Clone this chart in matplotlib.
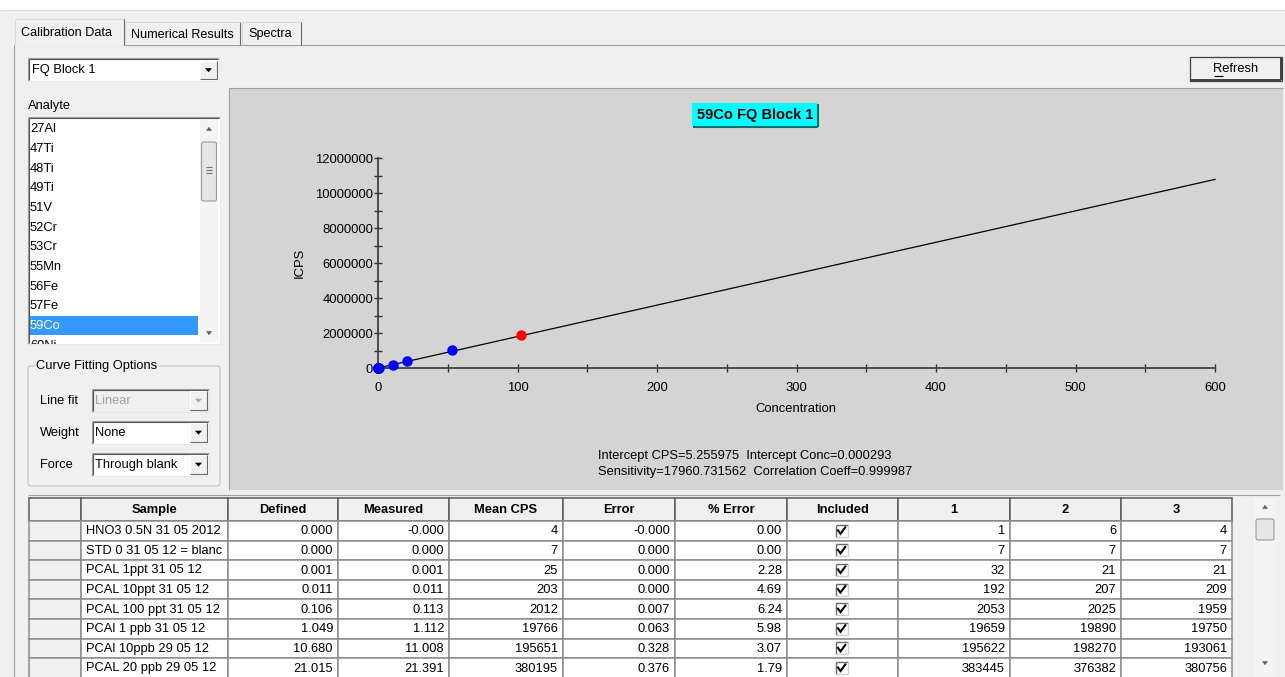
import numpy as np
import matplotlib
matplotlib.use("Agg")
import matplotlib.pyplot as plt
from matplotlib.patches import Rectangle, Polygon, FancyBboxPatch
from matplotlib.ticker import FuncFormatter, MultipleLocator

plt.rcParams["font.family"] = ["Liberation Sans", "DejaVu Sans"]

W, H = 1285, 677
UI = "#F0F0F0"
PANEL = "#D4D4D4"

# ---- data ----
analytes = ["27Al", "47Ti", "48Ti", "49Ti", "51V", "52Cr", "53Cr", "55Mn",
            "56Fe", "57Fe", "59Co", "60Ni"]
selected = "59Co"

samples = ["HNO3 0.5N 31 05 2012", "STD 0 31 05 12 = blanc", "PCAL 1ppt 31 05 12",
           "PCAL 10ppt 31 05 12", "PCAL 100 ppt 31 05 12", "PCAl 1 ppb 31 05 12",
           "PCAl 10ppb 29 05 12", "PCAL 20 ppb 29 05 12"]
defined = [0.000, 0.000, 0.001, 0.011, 0.106, 1.049, 10.680, 21.015]
measured = [-0.0002, 0.000, 0.001, 0.011, 0.113, 1.112, 11.008, 21.391]
mean_cps = [4, 7, 25, 203, 2012, 19766, 195651, 380195]
error = [-0.0002, 0.000, 0.000, 0.000, 0.007, 0.063, 0.328, 0.376]
pct_error = [0.00, 0.00, 2.28, 4.69, 6.24, 5.98, 3.07, 1.79]
rep1 = [1, 7, 32, 192, 2053, 19659, 195622, 383445]
rep2 = [6, 7, 21, 207, 2025, 19890, 198270, 376382]
rep3 = [4, 7, 21, 209, 1959, 19750, 193061, 380756]

# standards further down the table (rows scrolled out)
extra_conc = [52.8]
extra_cps = [1010000]
excluded_conc = [102.3]
excluded_cps = [1870000]

intercept = 5.255975
sensitivity = 17960.731562
corr_coeff = 0.999987
fit_range = [0, 600]

headers = ["", "Sample", "Defined", "Measured", "Mean CPS", "Error", "% Error",
           "Included", "1", "2", "3"]

fig = plt.figure(figsize=(W / 100, H / 100), dpi=100)
fig.patch.set_facecolor(UI)
bg = fig.add_axes([0, 0, 1, 1])
bg.set_xlim(0, W); bg.set_ylim(H, 0); bg.axis("off")


def box(x0, y0, x1, y1, fc, ec="none", lw=0.8, z=1):
    p = Rectangle((x0, y0), x1 - x0, y1 - y0, fc=fc, ec=ec, lw=lw, zorder=z)
    bg.add_patch(p)
    return p


def line(xs, ys, c, lw=0.8, z=2):
    bg.plot(xs, ys, color=c, lw=lw, zorder=z, solid_capstyle="butt")


def txt(x, y, s, **kw):
    kw.setdefault("fontsize", 9.3)
    kw.setdefault("va", "center")
    kw.setdefault("zorder", 4)
    return bg.text(x, y + 1.5, s, **kw)


def sunken(x0, y0, x1, y1, fc="white"):
    p = box(x0, y0, x1, y1, fc)
    line([x0, x1], [y0, y0], "#A0A0A0"); line([x0, x0], [y0, y1], "#A0A0A0")
    line([x0 + 1, x1 - 1], [y0 + 1, y0 + 1], "#555555"); line([x0 + 1, x0 + 1], [y0 + 1, y1 - 1], "#555555")
    line([x0, x1], [y1, y1], "#E8E8E8"); line([x1, x1], [y0, y1], "#E8E8E8")
    return p


def tri(cx, cy, up=False, color="black", s=3.5):
    d = -1 if up else 1
    bg.add_patch(Polygon([[cx - s, cy - d * 1.8], [cx + s, cy - d * 1.8], [cx, cy + d * 2.2]],
                         closed=True, fc=color, ec="none", zorder=5))


def arrow_btn(x0, y0, x1, y1, color="black"):
    box(x0, y0, x1, y1, UI, z=3)
    line([x0, x1], [y0, y0], "white", z=4); line([x0, x0], [y0, y1], "white", z=4)
    line([x0, x1], [y1, y1], "#696969", z=4); line([x1, x1], [y0, y1], "#696969", z=4)
    tri((x0 + x1) / 2, (y0 + y1) / 2, color=color)


# ---- window chrome ----
box(0, 0, W, 10, "white")
line([0, W], [10, 10], "#DADADA")
line([14, W], [45, 45], "#A0A0A0")
line([14, 14], [45, H], "#A0A0A0")
tabs = [("Calibration Data", 15, 124), ("Numerical Results", 125, 240), ("Spectra", 242, 301)]
for i, (name, x0, x1) in enumerate(tabs):
    top = 19 if i == 0 else 22
    box(x0, top, x1, 46 if i == 0 else 45, UI, z=2)
    line([x0, x1], [top, top], "#D8D8D8", z=3)
    line([x0, x0], [top, 45], "#D8D8D8", z=3)
    line([x1, x1], [top, 45], "#696969", z=3)
    txt(x0 + 6, 31 if i == 0 else 33, name, fontsize=9.1)

sunken(28, 58, 219, 81)
arrow_btn(200, 61, 217, 79)
txt(32, 69, "FQ Block 1")

box(1190, 57, 1282, 81, UI, ec="#404040", lw=0.9)
line([1191, 1281], [80, 80], "#404040", lw=1.4); line([1281, 1281], [58, 80], "#404040", lw=1.4)
txt(1236, 68, "Refresh", ha="center")
line([1214, 1223], [75.5, 75.5], "black")

# ---- analyte list ----
txt(28, 104, "Analyte")
lb = sunken(28, 117, 220, 344)
for i, a in enumerate(analytes):
    y = 128 + i * 19.65
    if a == selected:
        box(30, y - 8.5, 198, y + 10, "#3399FF", z=2)
    t = txt(30, y, a, color="white" if a == selected else "black")
    t.set_clip_path(lb)
    t.set_clip_on(True)
box(200, 119, 218, 342, "#F4F4F4", z=3)
tri(209, 129, up=True, color="#606060", s=3)
tri(209, 333, color="#606060", s=3)
bg.add_patch(FancyBboxPatch((201.5, 142), 15, 59, boxstyle="round,pad=0,rounding_size=2",
                            fc="#E6E6E6", ec="#9A9A9A", lw=0.8, zorder=4))
for gy in (167, 170, 173):
    line([206, 212], [gy, gy], "#707070", z=5)

# ---- curve fitting options ----
bg.add_patch(FancyBboxPatch((28, 366), 192, 120, boxstyle="round,pad=0,rounding_size=3",
                            fc="none", ec="#C8C8C8", lw=0.9, zorder=2))
txt(36, 364, "Curve Fitting Options", bbox=dict(fc=UI, ec="none", pad=1))
combos = [("Line fit", "Linear", 400, False), ("Weight", "None", 432, True),
          ("Force", "Through blank", 464, True)]
for label, value, y, enabled in combos:
    txt(40, y - 0.5, label)
    sunken(92, y - 11, 209, y + 12, fc="white" if enabled else UI)
    arrow_btn(190, y - 9, 207, y + 10, color="black" if enabled else "#A8A8A8")
    txt(95, y - 0.5, value, color="black" if enabled else "#A0A0A0")

# ---- chart panel ----
box(229, 88, 1283, 490, PANEL)
line([229, 1283], [88, 88], "#A0A0A0")
line([229, 229], [88, 490], "#A0A0A0")
box(692, 103, 817, 126, "#00FFFF", z=3)
line([693, 818], [126.5, 126.5], "#007070", lw=1.5, z=4)
line([818, 818], [104, 127], "#007070", lw=1.5, z=4)
txt(755, 113.5, "59Co FQ Block 1", ha="center", fontweight="bold", fontsize=10.5)
txt(598, 455, f"Intercept CPS={intercept:.6f}  Intercept Conc={intercept / sensitivity:.6f}")
txt(598, 471, f"Sensitivity={sensitivity:.6f}  Correlation Coeff={corr_coeff:.6f}")
bg.text(300, 263, "ICPS", rotation=90, ha="center", va="center", fontsize=9.4)
txt(796, 407, "Concentration", ha="center", fontsize=9.4)

ax = fig.add_axes([378 / W, 1 - 368 / H, 837 / W, 210 / H])
ax.patch.set_alpha(0)
ax.set_xlim(0, 600); ax.set_ylim(0, 12e6)
for s in ("top", "right"):
    ax.spines[s].set_visible(False)
for s in ("left", "bottom"):
    ax.spines[s].set_color("#404040"); ax.spines[s].set_linewidth(1.3)
ax.xaxis.set_major_locator(MultipleLocator(100)); ax.xaxis.set_minor_locator(MultipleLocator(50))
ax.yaxis.set_major_locator(MultipleLocator(2e6)); ax.yaxis.set_minor_locator(MultipleLocator(1e6))
ax.yaxis.set_major_formatter(FuncFormatter(lambda v, p: f"{int(round(v))}"))
ax.tick_params(which="both", direction="inout", length=6, width=1, color="#303030", labelsize=9.4)
ax.tick_params(axis="x", pad=7)
ax.tick_params(axis="y", pad=0.5)

fx = np.array(fit_range, dtype=float)
ax.plot(fx, intercept + sensitivity * fx, color="black", lw=0.9, clip_on=False, zorder=2)
ax.plot(defined + extra_conc, mean_cps + extra_cps, "o", color="#0000FF", ms=6.5,
        mec="#0000FF", clip_on=False, zorder=3)
ax.plot(excluded_conc, excluded_cps, "o", color="#FF0000", ms=6.5, mec="#FF0000",
        clip_on=False, zorder=3)

# ---- results table ----
col_edges = [29, 81, 228, 338, 449, 563, 675, 787, 898, 1010, 1121, 1232]
box(28, 495, 1280, H + 2, UI)
line([28, 1280], [495, 495], "#A0A0A0")
hy0, hy1 = 498, 521
for j, name in enumerate(headers):
    x0, x1 = col_edges[j], col_edges[j + 1]
    box(x0, hy0, x1, hy1, UI, ec="#5A5A5A", lw=1.1, z=2)
    txt((x0 + x1) / 2, (hy0 + hy1) / 2 - 1, name, ha="center", fontweight="bold")

rh = 19.6
for i in range(len(samples)):
    r0 = hy1 + i * rh
    cy = r0 + rh / 2
    for j in range(len(headers)):
        x0, x1 = col_edges[j], col_edges[j + 1]
        box(x0, r0, x1, r0 + rh, UI if j == 0 else "white", ec="#8C8C8C", lw=1.1, z=2)
    vals = [f"{defined[i]:.3f}", f"{measured[i]:.3f}", f"{mean_cps[i]}",
            f"{error[i]:.3f}", f"{pct_error[i]:.2f}"]
    txt(col_edges[1] + 5, cy - 1, samples[i])
    for k, v in enumerate(vals):
        txt(col_edges[k + 3] - 5, cy - 1, v, ha="right")
    for k, v in enumerate([rep1[i], rep2[i], rep3[i]]):
        txt(col_edges[k + 9] - 5, cy - 1, f"{v}", ha="right")
    # checkbox
    cx = (col_edges[7] + col_edges[8]) / 2 - 1
    box(cx - 6, cy - 6, cx + 6, cy + 6, "white", z=3)
    line([cx - 6, cx + 6], [cy - 6, cy - 6], "#6A6A6A", lw=1, z=4)
    line([cx - 6, cx - 6], [cy - 6, cy + 6], "#6A6A6A", lw=1, z=4)
    line([cx - 6, cx + 6], [cy + 6, cy + 6], "#D0D0D0", lw=1, z=4)
    line([cx + 6, cx + 6], [cy - 6, cy + 6], "#D0D0D0", lw=1, z=4)
    bg.plot([cx - 3.5, cx - 1, cx + 3.8], [cy - 0.5, cy + 3, cy - 3.5], color="black",
            lw=1.5, zorder=5, solid_joinstyle="miter")

box(1254, 498, 1276, H, "#F4F4F4", z=2)
tri(1265, 507, up=True, color="#606060", s=3)
tri(1265, 663, color="#606060", s=3)
bg.add_patch(FancyBboxPatch((1256, 519), 18, 21, boxstyle="round,pad=0,rounding_size=2",
                            fc="#E6E6E6", ec="#9A9A9A", lw=0.8, zorder=4))

fig.savefig("out.png", dpi=100, facecolor=UI)
